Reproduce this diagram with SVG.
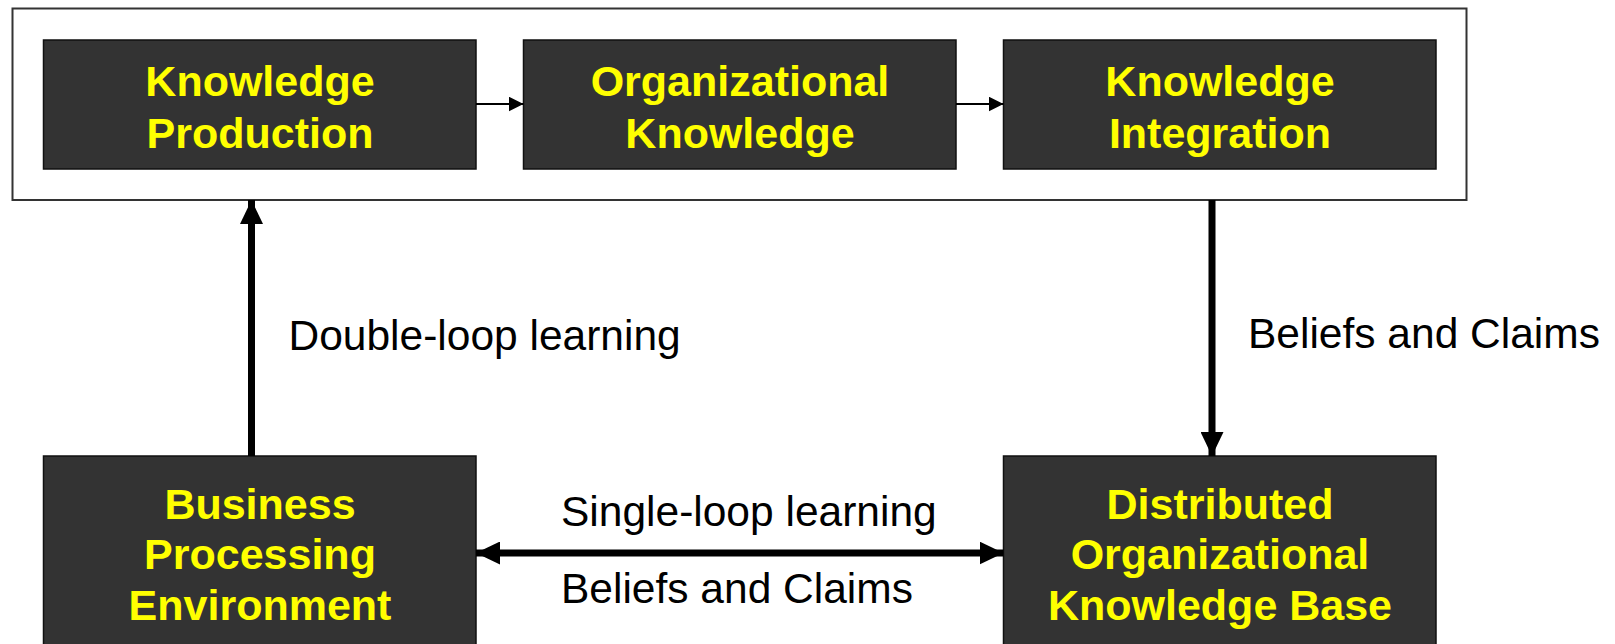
<svg xmlns="http://www.w3.org/2000/svg" width="1615" height="644" viewBox="0 0 1615 644">
<defs>
<style>
.box{fill:#333333;stroke:#111111;stroke-width:1.5}
.frame{fill:#ffffff;stroke:#333333;stroke-width:2}
.nt{font-family:"Liberation Sans",Arial,sans-serif;font-weight:bold;font-size:43px;fill:#ffff00;text-anchor:middle}
.lbl{font-family:"Liberation Sans",Arial,sans-serif;font-size:42.5px;fill:#000000}
.thin{stroke:#000;stroke-width:2;fill:none}
.thick{stroke:#000;stroke-width:7;fill:none}
</style>
<marker id="sm" viewBox="0 0 15 15" refX="15" refY="7.5" markerWidth="15" markerHeight="15" markerUnits="userSpaceOnUse" orient="auto"><path d="M0,0 L15,7.5 L0,15 Z" fill="#000"/></marker>
<marker id="big" viewBox="0 0 24 23" refX="24" refY="11.5" markerWidth="24" markerHeight="23" markerUnits="userSpaceOnUse" orient="auto-start-reverse"><path d="M0,0 L24,11.5 L0,23 Z" fill="#000"/></marker>
</defs>
<rect width="1615" height="644" fill="#ffffff"/>
<g id="frame"><rect class="frame" x="12.5" y="8.5" width="1454" height="191.5"/></g>
<g id="knowledge-production"><rect class="box" x="43.5" y="40" width="432.5" height="129"/><text class="nt" x="260" y="95.5">Knowledge</text><text class="nt" x="260" y="147.5">Production</text></g>
<g id="organizational-knowledge"><rect class="box" x="523.5" y="40" width="432.5" height="129"/><text class="nt" x="740" y="95.5">Organizational</text><text class="nt" x="740" y="147.5">Knowledge</text></g>
<g id="knowledge-integration"><rect class="box" x="1003.5" y="40" width="432.5" height="129"/><text class="nt" x="1220" y="95.5">Knowledge</text><text class="nt" x="1220" y="147.5">Integration</text></g>
<g id="business-processing-environment"><rect class="box" x="43.5" y="456" width="432.5" height="200"/><text class="nt" x="260" y="518.5">Business</text><text class="nt" x="260" y="569">Processing</text><text class="nt" x="260" y="619.5">Environment</text></g>
<g id="distributed-knowledge-base"><rect class="box" x="1003.5" y="456" width="432.5" height="200"/><text class="nt" x="1220" y="518.5">Distributed</text><text class="nt" x="1220" y="569">Organizational</text><text class="nt" x="1220" y="619.5">Knowledge Base</text></g>
<g id="connectors">
<line class="thin" x1="476" y1="104" x2="523.5" y2="104" marker-end="url(#sm)"/>
<line class="thin" x1="956" y1="104" x2="1003.5" y2="104" marker-end="url(#sm)"/>
<line class="thick" x1="251.5" y1="456" x2="251.5" y2="200" marker-end="url(#big)"/>
<line class="thick" x1="1212" y1="200" x2="1212" y2="456" marker-end="url(#big)"/>
<line class="thick" x1="476" y1="553" x2="1003.5" y2="553" marker-start="url(#big)" marker-end="url(#big)"/>
<text class="lbl" x="288.5" y="349.5">Double-loop learning</text>
<text class="lbl" x="1248" y="347.5">Beliefs and Claims</text>
<text class="lbl" x="561" y="525.5">Single-loop learning</text>
<text class="lbl" x="561" y="603">Beliefs and Claims</text>
</g>
</svg>
